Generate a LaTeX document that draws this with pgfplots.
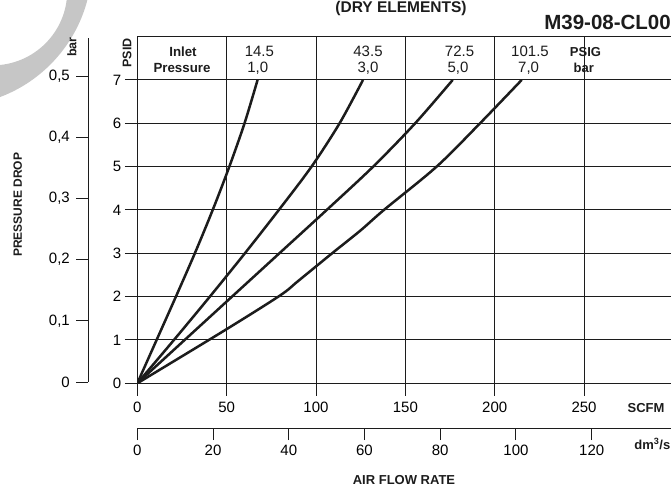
\documentclass[border=0pt]{standalone}
\usepackage{fontspec}
\setmainfont{Liberation Sans}
\usepackage{pgfplots}
\pgfplotsset{compat=1.18}

\definecolor{ink}{RGB}{28,28,28}
\definecolor{swoosh}{RGB}{198,198,198}

\newcommand{\fs}[1]{\fontsize{#1}{#1}\selectfont}

\begin{document}
\begin{tikzpicture}
% grey logo fragment, top left
\begin{scope}[x=1pt,y=1pt]
  \clip (0,0) rectangle (671,488);
  \fill[swoosh,even odd rule] (-50.06,523.85) circle[radius=142] (-7.35,497.27) circle[radius=74.6];
\end{scope}

% main chart, SCFM vs PSID
\begin{axis}[
  at={(137.3pt,104.7pt)}, anchor=south west,
  scale only axis, width=536.1pt, height=346.7pt,
  xmin=0, xmax=300, ymin=0, ymax=8,
  xtick={0,50,...,250}, ytick={0,1,...,7},
  xtick pos=bottom, ytick pos=left,
  tick align=outside, major tick length=12.5pt,
  grid=major,
  major grid style={line width=1pt, ink},
  axis line style={line width=1.5pt, ink},
  tick style={line width=1pt, ink},
  ticklabel style={font=\fs{15}},
  xticklabel style={yshift=-3pt},
  /pgf/number format/assume math mode=true,
]
% inlet 1,0 bar
\addplot[ink, line width=2.5pt, smooth] coordinates {
  (0,0) (10.8,1) (21.6,2) (32.2,3) (42.2,4) (51.5,5) (60,6) (67.3,7)};
% inlet 3,0 bar
\addplot[ink, line width=2.5pt, smooth] coordinates {
  (0,0) (20.5,1) (40.6,2) (60.2,3) (79.2,4) (97.5,5) (113.2,6) (126.3,7)};
% inlet 5,0 bar
\addplot[ink, line width=2.5pt, smooth] coordinates {
  (0,0) (26.5,1) (53,2) (79.5,3) (106,4) (132,5) (155.5,6) (176.5,7)};
% inlet 7,0 bar
\addplot[ink, line width=2.5pt, smooth] coordinates {
  (0,0) (50,1.25) (80,2.03) (90,2.36) (109,3) (125,3.53) (138,4) (167.5,5) (191.8,6) (215.1,7)};
\end{axis}

% bar scale on the left
\begin{axis}[
  at={(88.3pt,106pt)}, anchor=south west,
  scale only axis, width=20pt, height=344pt,
  xmin=0, xmax=1, ymin=0, ymax=0.5625,
  axis y line=left, axis x line=none,
  axis line style={line width=1.5pt, ink, -},
  ytick={0,0.1,0.2,0.3,0.4,0.5},
  tick align=outside, major tick length=12pt,
  tick style={line width=1pt, ink},
  yticklabel style={font=\fs{15}, xshift=-3pt,
    /pgf/number format/.cd, fixed, precision=1, use comma},
  /pgf/number format/assume math mode=true,
]
\end{axis}

% dm3/s scale below
\begin{axis}[
  at={(137.3pt,59.7pt)}, anchor=south west,
  scale only axis, width=536.1pt, height=10pt,
  xmin=0, xmax=141.58, ymin=0, ymax=1,
  axis x line=bottom, axis y line=none,
  axis line style={line width=1.5pt, ink, -},
  xtick={0,20,...,120},
  tick align=outside, major tick length=11.7pt,
  tick style={line width=1pt, ink},
  xticklabel style={font=\fs{15}, yshift=-1pt},
  /pgf/number format/assume math mode=true,
]
\end{axis}

% texts
\begin{scope}[x=1pt,y=1pt, text=ink]
  \node[font=\bfseries\fs{15.5}, anchor=base] at (401,475.5) {(DRY ELEMENTS)};
  \node[font=\bfseries\fs{20.5}, anchor=base east, inner sep=0pt] at (671,458) {M39-08-CL00};

  \node[font=\bfseries\fs{13.3}] at (183,436.3) {Inlet};
  \node[font=\bfseries\fs{13.3}] at (182,419.7) {Pressure};
  \node[font=\fs{15}] at (259.4,436.3) {14.5};
  \node[font=\fs{15}] at (257.7,419.7) {1,0};
  \node[font=\fs{15}] at (368,436.3) {43.5};
  \node[font=\fs{15}] at (368,419.7) {3,0};
  \node[font=\fs{15}] at (459.5,436.3) {72.5};
  \node[font=\fs{15}] at (458,419.7) {5,0};
  \node[font=\fs{15}] at (530,436.3) {101.5};
  \node[font=\fs{15}] at (528.6,419.7) {7,0};
  \node[font=\bfseries\fs{13}] at (585.5,436.3) {PSIG};
  \node[font=\bfseries\fs{13}] at (583.8,419.7) {bar};

  \node[font=\bfseries\fs{12.5}, rotate=90] at (127,435) {PSID};
  \node[font=\bfseries\fs{12.5}, rotate=90] at (72,441) {bar};
  \node[font=\bfseries\fs{12}, rotate=90] at (17.7,283.3) {PRESSURE DROP};

  \node[font=\bfseries\fs{13}] at (646,80.3) {SCFM};
  \node[font=\bfseries\fs{13}, anchor=base east, inner sep=0pt] at (670.5,38.7) {dm\textsuperscript{3}/s};
  \node[font=\bfseries\fs{13}, anchor=base, inner sep=0pt] at (404,4) {AIR FLOW RATE};
\end{scope}

\pgfresetboundingbox
\useasboundingbox (0pt,0pt) rectangle (671pt,488pt);
\end{tikzpicture}
\end{document}
